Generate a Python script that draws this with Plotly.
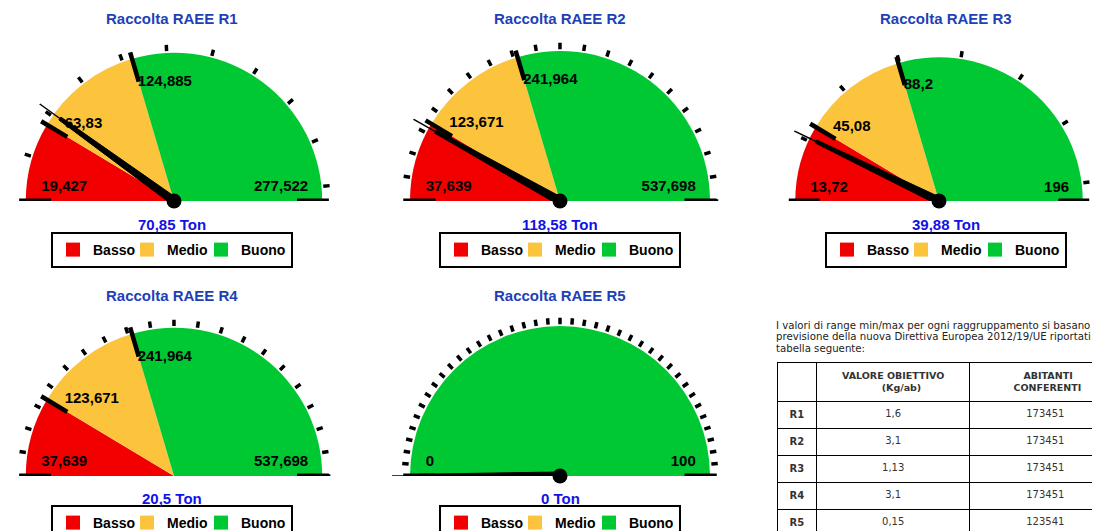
import plotly.graph_objects as go

# ---------------- data ----------------
titles = ["Raccolta RAEE R1", "Raccolta RAEE R2", "Raccolta RAEE R3",
          "Raccolta RAEE R4", "Raccolta RAEE R5"]
range_min = [19.427, 37.639, 13.72, 37.639, 0]
range_max = [277.522, 537.698, 196, 537.698, 100]
limit_basso_medio = [63.83, 123.671, 45.08, 123.671, 0]
limit_medio_buono = [124.885, 241.964, 88.2, 241.964, 0]
values_ton = [70.85, 118.58, 39.88, 20.5, 0]
tick_steps = [25, 25, 25, 25, 2.5]
band_names = ["Basso", "Medio", "Buono"]
band_colors = ["#f20000", "#fbc43c", "#00c832"]

table_rows = ["R1", "R2", "R3", "R4", "R5"]
valore_obiettivo = ["1,6", "3,1", "1,13", "3,1", "0,15"]
abitanti = ["173451", "173451", "173451", "173451", "123541"]
note_lines = ["I valori di range min/max per ogni raggruppamento si basano",
              "previsione della nuova Direttiva Europea 2012/19/UE riportati",
              "tabella seguente:"]

# ---------------- layout helpers ----------------
OFF = 8                      # page body margin of the html page
W, H = 1100 - OFF, 531 - OFF  # figure size so that the page fits the window
ARC = 150                    # gauge radius (px)
RMAX = 1.12                  # radial range (room for ticks / needle tip)
ROUT = ARC * RMAX
centers = [(172, 201), (560, 201), (946, 201), (172, 476), (560, 476)]
title_y = [18, 18, 18, 295, 295]
value_y = [224, 224, 224, 498, 498]
legend_top = [232, 232, 232, 505, 505]
legend_entry_w = [29, 29, 45]
FONT = "Liberation Sans, Arial, sans-serif"
TFONT = "DejaVu Sans, Verdana, sans-serif"


def px_x(x):
    return (x - OFF) / W


def px_y(y):
    return 1 - (y - OFF) / H


def fmt(v):
    return f"{v:g}".replace(".", ",")


fig = go.Figure()
layout = {}
annotations = []
nolegend = dict(showlegend=False, hoverinfo="skip", cliponaxis=False)

for i in range(5):
    mn, mx = range_min[i], range_max[i]
    cx, cy = centers[i]
    pname = "polar" if i == 0 else f"polar{i+1}"
    lname = "legend" if i == 0 else f"legend{i+1}"

    def th(v, mn=mn, mx=mx):
        return 180.0 - 180.0 * (v - mn) / (mx - mn)

    fx, fy = cx - OFF, cy - OFF
    x0 = max(0.0, fx - ROUT)
    x1 = min(float(W), fx + ROUT)
    rp = min(ROUT, (x1 - x0) / 2)
    layout[pname] = dict(
        domain=dict(x=[x0 / W, x1 / W], y=[1 - fy / H, 1 - (fy - rp) / H]),
        sector=[0, 180], hole=0, bgcolor="rgba(0,0,0,0)",
        angularaxis=dict(visible=False, showgrid=False),
        radialaxis=dict(visible=False, range=[0, RMAX], showgrid=False),
    )

    # coloured bands
    edges = [mn, limit_basso_medio[i], limit_medio_buono[i], mx]
    for k in range(3):
        a, b = edges[k], edges[k + 1]
        fig.add_trace(go.Barpolar(
            r=[1], theta=[th((a + b) / 2)], width=[abs(th(a) - th(b))],
            base=0, marker=dict(color=band_colors[k], line=dict(width=0)),
            name=band_names[k], subplot=pname, showlegend=False, hoverinfo="skip"))
        # legend entry for the band
        fig.add_trace(go.Scatterpolar(
            r=[None], theta=[None], mode="markers", name=band_names[k],
            marker=dict(symbol="square", size=14, color=band_colors[k]),
            legend=lname, legendwidth=legend_entry_w[k], subplot=pname,
            showlegend=True, hoverinfo="skip"))

    # minor ticks
    rr, tt = [], []
    j = 1
    while mn + tick_steps[i] * j < mx - 1e-9:
        t = th(mn + tick_steps[i] * j)
        rr += [1.012, 1.055, None]
        tt += [t, t, None]
        j += 1
    fig.add_trace(go.Scatterpolar(r=rr, theta=tt, mode="lines",
                                  line=dict(color="black", width=3.5),
                                  subplot=pname, **nolegend))

    # baseline end bars
    fig.add_trace(go.Scatterpolar(r=[0.83, 1.045, None, 0.83, 1.045],
                                  theta=[th(mn), th(mn), None, th(mx), th(mx)],
                                  mode="lines", line=dict(color="black", width=5),
                                  subplot=pname, **nolegend))

    # band limits (major ticks) and labels
    lab_r = [0.9, 0.91]
    lab_t = [th(mn) - 5.8, th(mx) + 5.8]
    lab_txt = [fmt(mn), fmt(mx)]
    lab_pos = ["middle right", "middle left"]
    for lim, dth, lr in zip([limit_basso_medio[i], limit_medio_buono[i]],
                            [-4.0, 0.5], [0.90, 0.84]):
        if mn < lim < mx:
            fig.add_trace(go.Scatterpolar(r=[0.84, 1.045], theta=[th(lim), th(lim)],
                                          mode="lines", line=dict(color="black", width=4.5),
                                          subplot=pname, **nolegend))
            lab_r.append(lr)
            lab_t.append(th(lim) + dth)
            lab_txt.append(fmt(lim))
            lab_pos.append("middle right")
    fig.add_trace(go.Scatterpolar(r=lab_r, theta=lab_t, text=lab_txt, mode="text",
                                  textposition=lab_pos,
                                  textfont=dict(family=FONT, size=15, color="black",
                                                weight="bold"),
                                  subplot=pname, **nolegend))

    # needle (only when the value lies inside the gauge range)
    v = values_ton[i]
    if mn <= v <= mx:
        t = th(v)
        fig.add_trace(go.Scatterpolar(
            r=[0.027, 0.95, 0.95, 0.027, 0.027],
            theta=[t + 90, t + 0.7, t - 0.7, t - 90, t + 90],
            mode="lines", fill="toself", fillcolor="black",
            line=dict(color="black", width=1), subplot=pname, **nolegend))
        fig.add_trace(go.Scatterpolar(
            r=[0.93, 1.12], theta=[t, t], mode="lines",
            line=dict(color="black", width=1.5), subplot=pname, **nolegend))
        fig.add_trace(go.Scatterpolar(
            r=[0], theta=[t], mode="markers",
            marker=dict(color="black", size=15), subplot=pname, **nolegend))

    layout[lname] = dict(
        x=px_x(cx), y=px_y(legend_top[i]), xanchor="center", yanchor="top",
        orientation="h", bordercolor="black", borderwidth=2, bgcolor="white",
        font=dict(family=FONT, size=14, color="black", weight="bold"),
        itemwidth=30, traceorder="normal", itemclick=False)

    annotations.append(dict(
        x=px_x(cx), y=px_y(title_y[i]), xref="paper", yref="paper",
        text=titles[i], showarrow=False, xanchor="center", yanchor="middle",
        font=dict(family=FONT, size=15, color="#1f3fb8", weight="bold")))
    annotations.append(dict(
        x=px_x(cx), y=px_y(value_y[i]), xref="paper", yref="paper",
        text=f"{fmt(v)} Ton", showarrow=False, xanchor="center", yanchor="middle",
        font=dict(family=FONT, size=15, color="#1212e6", weight="bold")))

# note text above the table
for n, line in enumerate(note_lines):
    annotations.append(dict(
        x=px_x(774), y=px_y(325 + 11.5 * n), xref="paper", yref="paper",
        text=line, showarrow=False, xanchor="left", yanchor="middle",
        font=dict(family=TFONT, size=10.2, color="#222222")))

# table (the third column is wider than the visible window in the original,
# so its content is nudged to the right with non-breaking spaces)
NB = "\u00a0"
fig.add_trace(go.Table(
    domain=dict(x=[px_x(777), 1.0], y=[0, px_y(362)]),
    columnwidth=[40, 153, 130],
    header=dict(values=["",
                        "<b>VALORE OBIETTIVO</b><br><b>" + NB * 12 + "(Kg/ab)</b>",
                        "<b>" + NB * 11 + "ABITANTI</b><br><b>" + NB * 8 + "CONFERENTI</b>"],
                align="center", height=30, fill_color="white",
                line=dict(color="black", width=1),
                font=dict(family=TFONT, size=9.5, color="#333333")),
    cells=dict(values=[[f"<b>{r}</b>" for r in table_rows], valore_obiettivo,
                       [NB * 7 + a for a in abitanti]],
               align="center", height=25, fill_color="white",
               line=dict(color="black", width=1),
               font=dict(family=TFONT, size=10, color="#333333")),
))

fig.update_layout(
    width=W, height=H, margin=dict(l=0, r=0, t=0, b=0, autoexpand=False),
    paper_bgcolor="white", plot_bgcolor="white",
    annotations=annotations, **layout)

fig.write_html("out.html")
